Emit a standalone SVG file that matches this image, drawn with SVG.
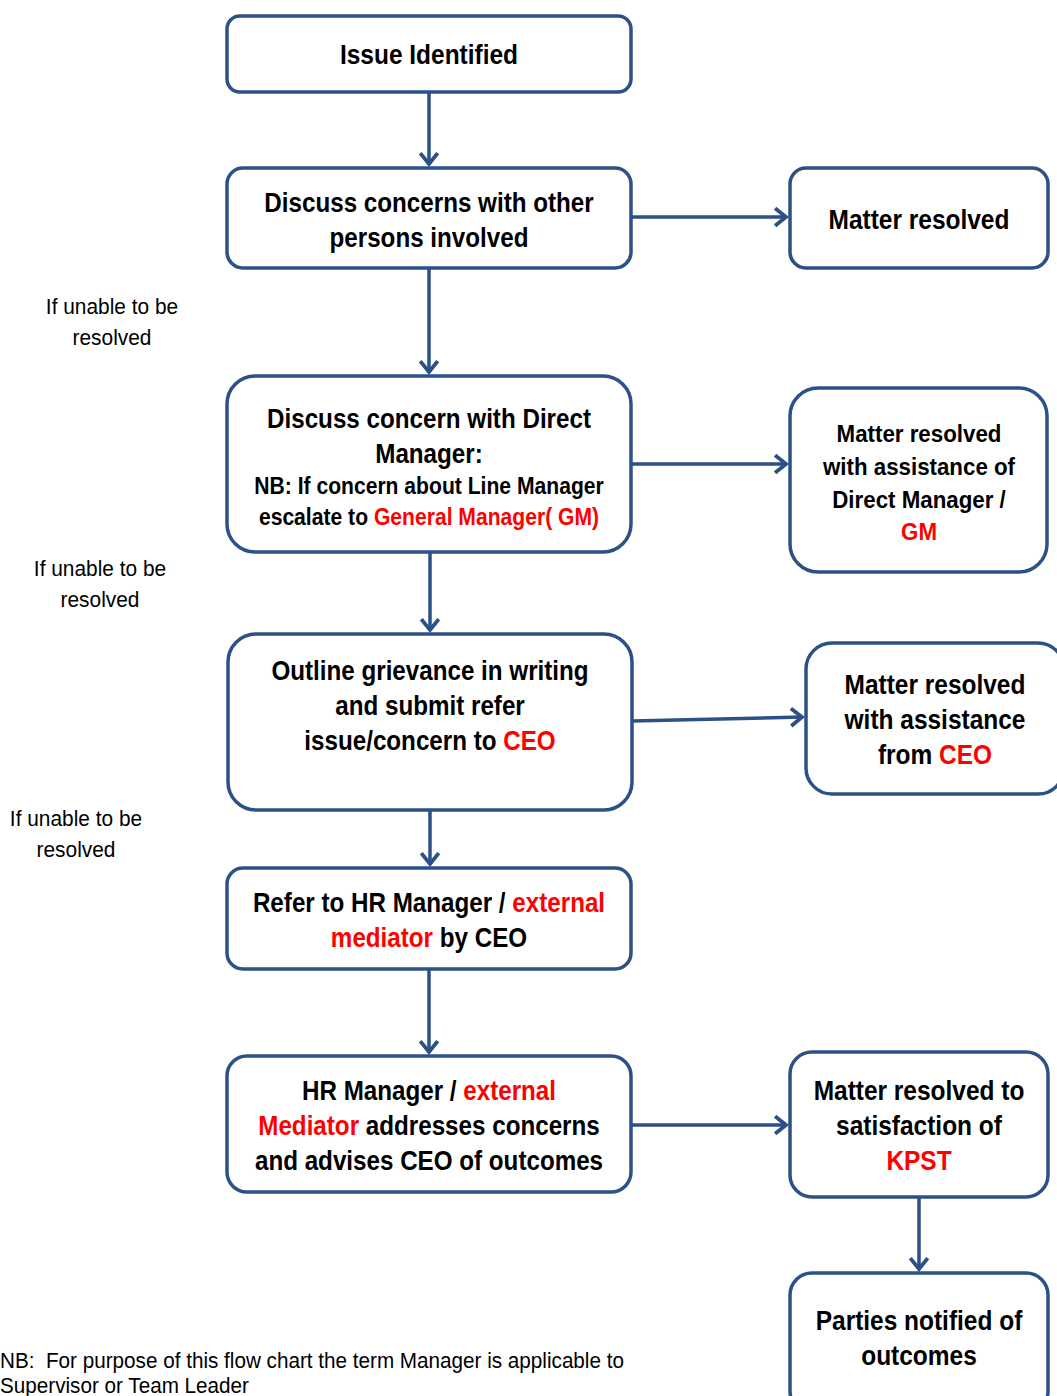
<svg xmlns="http://www.w3.org/2000/svg" width="1057" height="1396" viewBox="0 0 1057 1396">
<style>
.box{fill:#fff;stroke:#2b5186;stroke-width:3.5}
.t{font-family:"Liberation Sans",Arial,sans-serif;font-weight:bold;font-size:27.5px;fill:#000;text-anchor:middle}
.s{font-size:24px}
.r{fill:#ff0000}
.n{font-family:"Liberation Sans",Arial,sans-serif;font-size:22px;fill:#000;text-anchor:middle;white-space:pre}
.c{fill:none;stroke:#2b5186;stroke-width:3.5}
</style>
<defs>
<marker id="ah" markerUnits="userSpaceOnUse" markerWidth="24" markerHeight="24" viewBox="-13 -11 16 22" refX="0" refY="0" orient="auto">
<path d="M-10,-8 L0,0 L-10,8" fill="none" stroke="#2b5186" stroke-width="3.5" stroke-linejoin="miter"/>
</marker>
</defs>
<g id="connectors">
<line class="c" x1="429" y1="92" x2="429" y2="164" marker-end="url(#ah)"/>
<line class="c" x1="429" y1="268" x2="429" y2="372" marker-end="url(#ah)"/>
<line class="c" x1="430" y1="552" x2="430" y2="630" marker-end="url(#ah)"/>
<line class="c" x1="430" y1="810" x2="430" y2="864" marker-end="url(#ah)"/>
<line class="c" x1="429" y1="969" x2="429" y2="1052" marker-end="url(#ah)"/>
<line class="c" x1="631" y1="217" x2="786" y2="217" marker-end="url(#ah)"/>
<line class="c" x1="631" y1="464" x2="786" y2="464" marker-end="url(#ah)"/>
<line class="c" x1="632" y1="721" x2="802" y2="717" marker-end="url(#ah)"/>
<line class="c" x1="631" y1="1125" x2="786" y2="1125" marker-end="url(#ah)"/>
<line class="c" x1="919" y1="1197" x2="919" y2="1269" marker-end="url(#ah)"/>
</g>
<g id="n1"><rect class="box" x="227" y="16" width="404" height="76" rx="13"/>
<g transform="translate(429 0) scale(0.89 1)"><text class="t" x="0" y="64">Issue Identified</text></g></g>
<g id="n2"><rect class="box" x="227" y="168" width="404" height="100" rx="16"/>
<g transform="translate(429 0) scale(0.88 1)">
<text class="t" x="0" y="212">Discuss concerns with other</text>
<text class="t" x="0" y="247">persons involved</text></g></g>
<g id="n3"><rect class="box" x="790" y="168" width="258" height="100" rx="16"/>
<g transform="translate(919 0) scale(0.89 1)"><text class="t" x="0" y="229">Matter resolved</text></g></g>
<g id="n4"><rect class="box" x="227" y="376" width="404" height="176" rx="28"/>
<g transform="translate(429 0) scale(0.88 1)">
<text class="t" x="0" y="428">Discuss concern with Direct</text>
<text class="t" x="0" y="463">Manager:</text>
<text class="t s" x="0" y="494">NB: If concern about Line Manager</text>
<text class="t s" x="0" y="525">escalate to <tspan class="r">General Manager( GM)</tspan></text></g></g>
<g id="n5"><rect class="box" x="790" y="388" width="257" height="184" rx="28"/>
<g transform="translate(919 0) scale(0.93 1)">
<text class="t s" x="0" y="442">Matter resolved</text>
<text class="t s" x="0" y="475">with assistance of</text>
<text class="t s" x="0" y="508">Direct Manager /</text>
<text class="t s r" x="0" y="540">GM</text></g></g>
<g id="n6"><rect class="box" x="228" y="634" width="404" height="176" rx="28"/>
<g transform="translate(430 0) scale(0.88 1)">
<text class="t" x="0" y="680">Outline grievance in writing</text>
<text class="t" x="0" y="715">and submit refer</text>
<text class="t" x="0" y="750">issue/concern to <tspan class="r">CEO</tspan></text></g></g>
<g id="n7"><rect class="box" x="806" y="643" width="258" height="151" rx="26"/>
<g transform="translate(935 0) scale(0.89 1)">
<text class="t" x="0" y="694">Matter resolved</text>
<text class="t" x="0" y="729">with assistance</text>
<text class="t" x="0" y="764">from <tspan class="r">CEO</tspan></text></g></g>
<g id="n8"><rect class="box" x="227" y="868" width="404" height="101" rx="16"/>
<g transform="translate(429 0) scale(0.88 1)">
<text class="t" x="0" y="912">Refer to HR Manager / <tspan class="r">external</tspan></text>
<text class="t" x="0" y="947"><tspan class="r">mediator</tspan> by CEO</text></g></g>
<g id="n9"><rect class="box" x="227" y="1056" width="404" height="136" rx="20"/>
<g transform="translate(429 0) scale(0.88 1)">
<text class="t" x="0" y="1100">HR Manager / <tspan class="r">external</tspan></text>
<text class="t" x="0" y="1135"><tspan class="r">Mediator</tspan> addresses concerns</text>
<text class="t" x="0" y="1170">and advises CEO of outcomes</text></g></g>
<g id="n10"><rect class="box" x="790" y="1052" width="258" height="145" rx="22"/>
<g transform="translate(919 0) scale(0.89 1)">
<text class="t" x="0" y="1100">Matter resolved to</text>
<text class="t" x="0" y="1135">satisfaction of</text>
<text class="t r" x="0" y="1170">KPST</text></g></g>
<g id="n11"><rect class="box" x="790" y="1273" width="258" height="140" rx="22"/>
<g transform="translate(919 0) scale(0.89 1)">
<text class="t" x="0" y="1330">Parties notified of</text>
<text class="t" x="0" y="1365">outcomes</text></g></g>
<g id="labels">
<g transform="translate(112 0) scale(0.95 1)">
<text class="n" x="0" y="314">If unable to be</text>
<text class="n" x="0" y="345">resolved</text></g>
<g transform="translate(100 0) scale(0.95 1)">
<text class="n" x="0" y="576">If unable to be</text>
<text class="n" x="0" y="607">resolved</text></g>
<g transform="translate(76 0) scale(0.95 1)">
<text class="n" x="0" y="826">If unable to be</text>
<text class="n" x="0" y="857">resolved</text></g>
<g transform="translate(0 0) scale(0.94 1)">
<text class="n" x="0" y="1368" style="text-anchor:start">NB:  For purpose of this flow chart the term Manager is applicable to</text>
<text class="n" x="0" y="1393" style="text-anchor:start">Supervisor or Team Leader</text></g>
</g>
</svg>
